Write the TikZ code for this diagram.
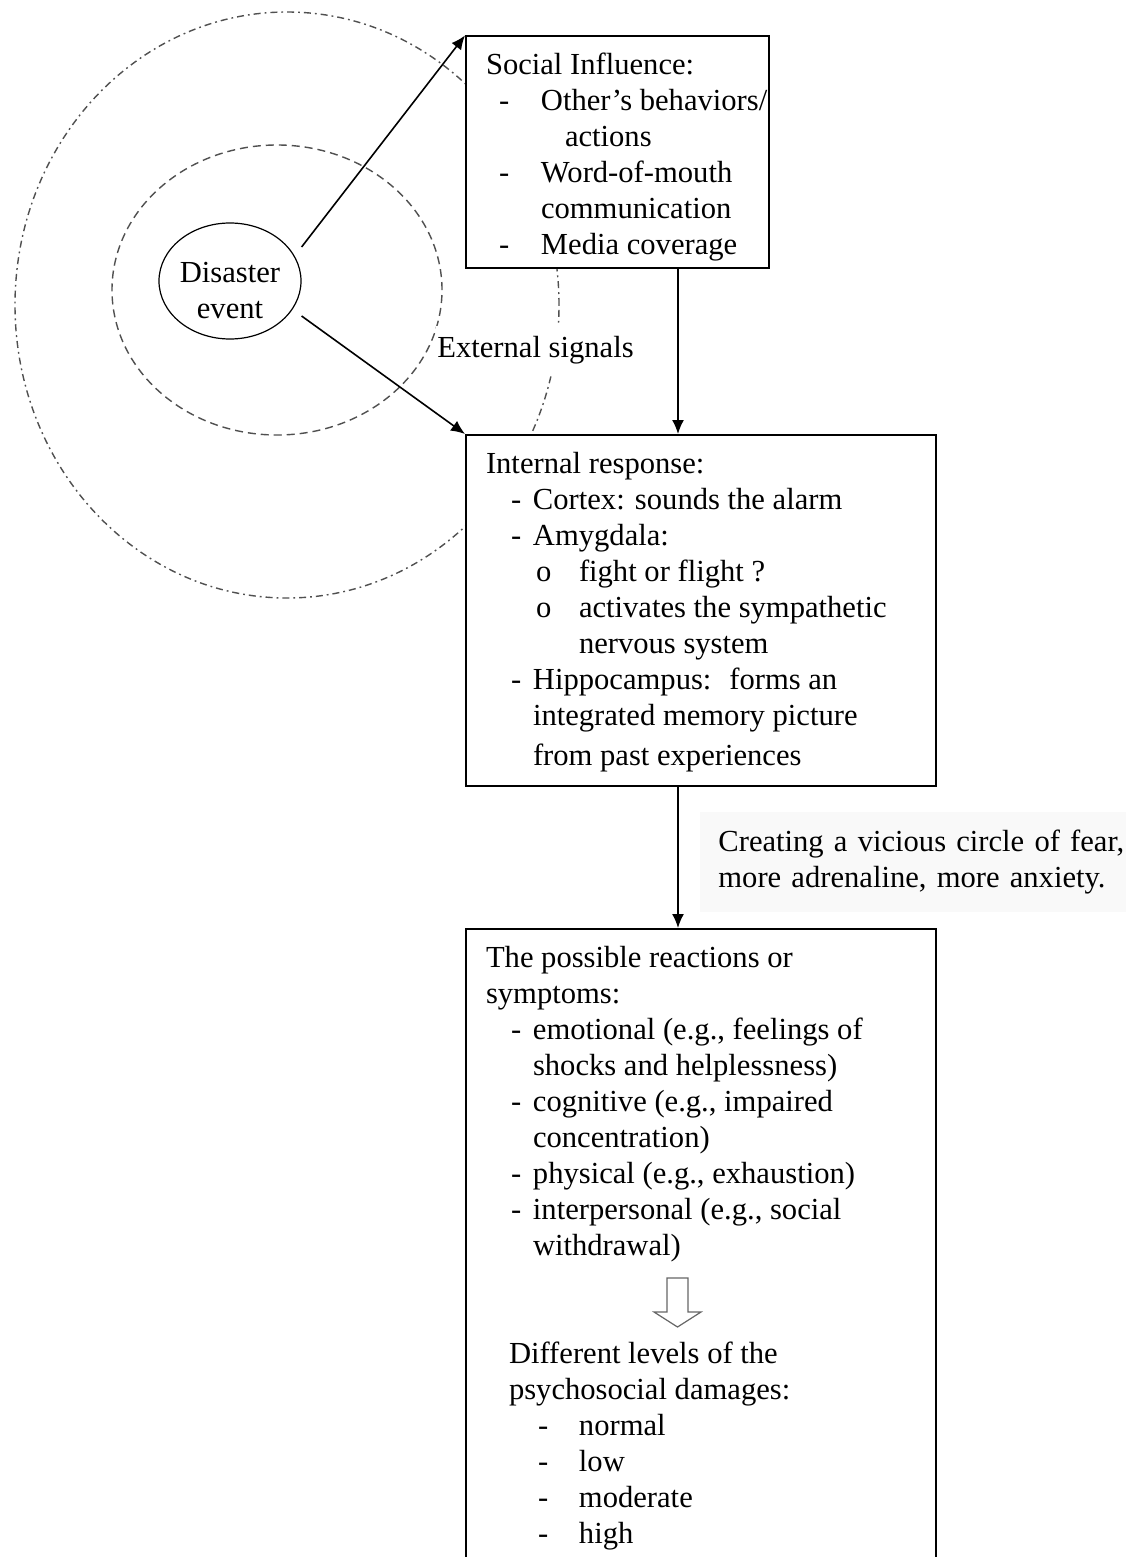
\documentclass[tikz,border=0pt]{standalone}
\usepackage{fontspec}
\setmainfont{Liberation Serif}
\usepackage{tikz}
\usetikzlibrary{shapes.geometric,arrows.meta,positioning,calc}

\definecolor{ringgray}{RGB}{80,80,80}
\definecolor{notegray}{RGB}{249,249,249}

\newcommand{\txtat}[2]{\rlap{\hskip#1\relax#2}}
\newcommand{\firstline}[1]{\hbox to\hsize{\rule{0pt}{19pt}#1\hfil}}

\tikzset{
  stagebox/.style={draw, line width=1pt, fill=white, anchor=north west, inner xsep=10pt, inner ysep=0pt},
  flow/.style={-{Latex[length=7pt,width=6pt]}, line width=0.8pt},
  ring/.style={ringgray, line width=0.7pt},
}

\begin{document}
\begin{tikzpicture}[x=0.5pt, y=-0.5pt, font=\fontsize{15.3}{18}\selectfont]
\useasboundingbox (0,0) rectangle (1125,1557);
\fill[white] (0,0) rectangle (1125,1557);

% signal rings
\draw[ring, dash pattern=on 3.5pt off 2pt on 0.9pt off 2pt] (287,305) ellipse [x radius=136pt, y radius=146.5pt];
\draw[ring, dash pattern=on 4pt off 2.5pt] (277,290) ellipse [x radius=82.5pt, y radius=72.5pt];

\node[ellipse, draw, line width=0.6pt, fill=white, minimum width=71pt, minimum height=58pt, inner sep=0pt, align=center] (disaster) at (230,281) {\rule{0pt}{20pt}Disaster\\event};

% boxes
\node[stagebox] (social) at (465,35.5) {\parbox[t][116pt][t]{131.5pt}{%
  \firstline{Social Influence:}
  \hbox{\txtat{6.5pt}{-}\txtat{27.5pt}{Other's behaviors/}}
  \hbox{\txtat{39.5pt}{actions}}
  \hbox{\txtat{6.5pt}{-}\txtat{27.5pt}{Word-of-mouth}}
  \hbox{\txtat{27.5pt}{communication}}
  \hbox{\txtat{6.5pt}{-}\txtat{27.5pt}{Media coverage}}}};

\node[stagebox] (internal) at (465,434) {\parbox[t][175.5pt][t]{215pt}{%
  \firstline{Internal response:}
  \hbox{\txtat{12.5pt}{-}\txtat{23.5pt}{Cortex: sounds the alarm}}
  \hbox{\txtat{12.5pt}{-}\txtat{23.5pt}{Amygdala:}}
  \hbox{\txtat{25pt}{o}\txtat{46.5pt}{fight or flight ?}}
  \hbox{\txtat{25pt}{o}\txtat{46.5pt}{activates the sympathetic}}
  \hbox{\txtat{46.5pt}{nervous system}}
  \hbox{\txtat{12.5pt}{-}\txtat{23.5pt}{Hippocampus:~ forms an}}
  \hbox{\txtat{23.5pt}{integrated memory picture}}
  \vspace{2pt}
  \hbox{\txtat{23.5pt}{from past experiences}}}};

\node[stagebox] (reactions) at (465,928) {\parbox[t][330pt][t]{215pt}{%
  \firstline{The possible reactions or}
  \hbox{\txtat{0pt}{symptoms:}}
  \hbox{\txtat{12.5pt}{-}\txtat{23.5pt}{emotional (e.g., feelings of}}
  \hbox{\txtat{23.5pt}{shocks and helplessness)}}
  \hbox{\txtat{12.5pt}{-}\txtat{23.5pt}{cognitive (e.g., impaired}}
  \hbox{\txtat{23.5pt}{concentration)}}
  \hbox{\txtat{12.5pt}{-}\txtat{23.5pt}{physical (e.g., exhaustion)}}
  \hbox{\txtat{12.5pt}{-}\txtat{23.5pt}{interpersonal (e.g., social}}
  \hbox{\txtat{23.5pt}{withdrawal)}}
  \vspace{36pt}
  \hbox{\txtat{11.5pt}{Different levels of the}}
  \hbox{\txtat{11.5pt}{psychosocial damages:}}
  \hbox{\txtat{26pt}{-}\txtat{46.5pt}{normal}}
  \hbox{\txtat{26pt}{-}\txtat{46.5pt}{low}}
  \hbox{\txtat{26pt}{-}\txtat{46.5pt}{moderate}}
  \hbox{\txtat{26pt}{-}\txtat{46.5pt}{high}}}};

% connectors
\coordinate (spine) at (678,0);
\draw[flow] (social.south -| spine) -- (internal.north -| spine);
\draw[flow] (internal.south -| spine) -- (reactions.north -| spine);
\draw[flow] ([yshift=17pt]disaster.east) -- (social.north west);
\draw[flow] ([yshift=-17.5pt]disaster.east) -- (internal.north west);

\node[fill=white, inner xsep=0.5pt, inner ysep=5pt, anchor=west] (signals) at (436,350) {External signals};
\node[fill=notegray, anchor=west, text width=230pt, inner xsep=9pt, minimum height=50pt, align=left] (vicious) at (700,862) {Creating a vicious circle of fear,\\more adrenaline, more anxiety.};

% hollow arrow
\coordinate (hollow) at (677.5,1278);
\draw[black!60, line width=0.6pt] (hollow) ++(-10.5,0) -- ++(21,0) -- ++(0,34) -- ++(13,0) -- ++(-23.5,15) -- ++(-23.5,-15) -- ++(13,0) -- cycle;
\end{tikzpicture}
\end{document}
